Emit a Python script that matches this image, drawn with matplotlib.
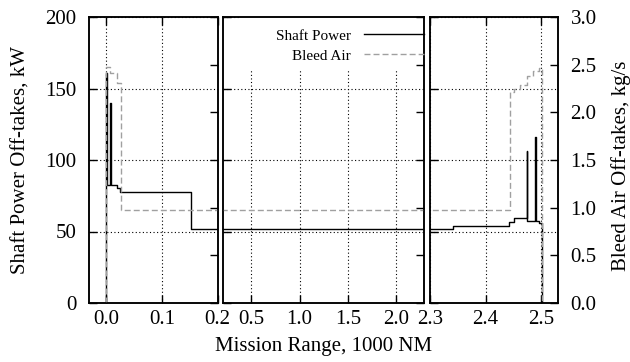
import matplotlib
matplotlib.use("Agg")
import matplotlib.pyplot as plt
from matplotlib.patches import Rectangle

plt.rcParams['font.family'] = ['Liberation Serif', 'DejaVu Serif']

# mission range in 1000 NM, shaft power in kW (step profile incl. spikes)
shaft_x = [0.000, 0.000, 0.0015, 0.0015, 0.006, 0.006, 0.009, 0.009, 0.020, 0.020,
           0.025, 0.025, 0.153, 0.153, 0.760, 0.760, 2.342, 2.342, 2.4425, 2.4425,
           2.4515, 2.4515, 2.4735, 2.4735, 2.4745, 2.4745, 2.4895, 2.4895, 2.4905, 2.4905,
           2.4957, 2.4957, 2.5007, 2.5007]
shaft_kw = [0.0, 161.0, 161.0, 82.5, 82.5, 140.0, 140.0, 82.5, 82.5, 80.5,
            80.5, 77.5, 77.5, 52.0, 52.0, 51.6, 51.6, 53.8, 53.8, 56.4,
            56.4, 59.4, 59.4, 106.5, 106.5, 57.0, 57.0, 116.3, 116.3, 57.0,
            57.0, 55.7, 55.7, 0.0]

# bleed air in kg/s
bleed_x = [0.000, 0.000, 0.007, 0.007, 0.0195, 0.0195, 0.027, 0.027, 2.4437, 2.4437,
           2.4515, 2.4515, 2.4617, 2.4617, 2.4737, 2.4737, 2.4856, 2.4856, 2.4964, 2.4964,
           2.5007, 2.5007]
bleed_kgs = [0.0, 2.48, 2.48, 2.41, 2.41, 2.305, 2.305, 0.976, 0.976, 2.21,
             2.21, 2.25, 2.25, 2.29, 2.29, 2.385, 2.385, 2.43, 2.43, 2.46,
             2.46, 0.0]

# broken x-axis: (xlim, tick positions, tick labels)
panel_xlim = [(-0.031, 0.2), (0.2, 2.29), (2.3, 2.53)]
panel_xticks = [[0.0, 0.1, 0.2], [0.5, 1.0, 1.5, 2.0], [2.3, 2.4, 2.5]]
panel_xlabels = [["0.0", "0.1", "0.2"], ["0.5", "1.0", "1.5", "2.0"], ["2.3", "2.4", "2.5"]]
kw_ticks = [0, 50, 100, 150, 200]
kgs_ticks = [0.0, 0.5, 1.0, 1.5, 2.0, 2.5, 3.0]
kgs_labels = ["0.0", "0.5", "1.0", "1.5", "2.0", "2.5", "3.0"]

W, H = 630, 362
boxes = [(89, 217.5), (222.5, 424), (430, 558)]   # pixel extents of panels
top, bot = 17, 303

fig = plt.figure(figsize=(W / 100, H / 100), dpi=100)
grey = "#a0a0a0"
fs = 15

for i, (x0, x1) in enumerate(boxes):
    ax = fig.add_axes([x0 / W, (H - bot) / H, (x1 - x0) / W, (bot - top) / H])
    ax.set_xlim(*panel_xlim[i]); ax.set_ylim(0, 200)
    axb = ax.twinx(); axb.set_ylim(0, 3)
    ax.set_axisbelow(True)
    ax.grid(True, color="k", lw=0.8, linestyle=(0, (1, 2.2)))
    l1, = ax.plot(shaft_x, shaft_kw, color="k", lw=1.0)
    l2, = axb.plot(bleed_x, bleed_kgs, color=grey, lw=1.0, dashes=(4.3, 2.2))

    ax.set_xticks(panel_xticks[i]); ax.set_xticklabels(panel_xlabels[i])
    ax.set_yticks(kw_ticks)
    axb.set_yticks(kgs_ticks); axb.set_yticklabels(kgs_labels)
    ax.tick_params(axis="x", direction="in", top=True, bottom=True, length=5.5, width=1,
                   pad=5, labelsize=fs)
    ax.tick_params(axis="y", direction="in", left=True, right=False, labelleft=(i == 0),
                   length=5.5, width=1, pad=9, labelsize=fs)
    axb.tick_params(axis="y", direction="in", right=True, left=False, labelright=(i == 2),
                    length=5.5, width=1, pad=9, labelsize=fs)
    for a in (ax, axb):
        for s in a.spines.values():
            s.set_linewidth(1.1)

    if i == 1:
        # opaque key box like gnuplot
        ax.add_patch(Rectangle((0.08, 0.81), 0.92, 0.19, transform=ax.transAxes,
                               facecolor="white", edgecolor="none", zorder=1))
        axb.legend([l1, l2], ["Shaft Power", "Bleed Air"], loc="upper right",
                   bbox_to_anchor=(1.0, 0.958), markerfirst=False, frameon=False,
                   fontsize=11, handlelength=3.9, handletextpad=0.9, borderpad=0,
                   borderaxespad=0, labelspacing=0.4)

fig.text(0.513, 0.044, "Mission Range, 1000 NM", ha="center", va="center", fontsize=fs)
fig.text(0.033, 0.558, "Shaft Power Off-takes, kW", rotation=90, ha="center", va="center",
         fontsize=fs)
fig.text(0.986, 0.541, "Bleed Air Off-takes, kg/s", rotation=90, ha="center", va="center",
         fontsize=fs)

fig.savefig("out.png", dpi=100)
